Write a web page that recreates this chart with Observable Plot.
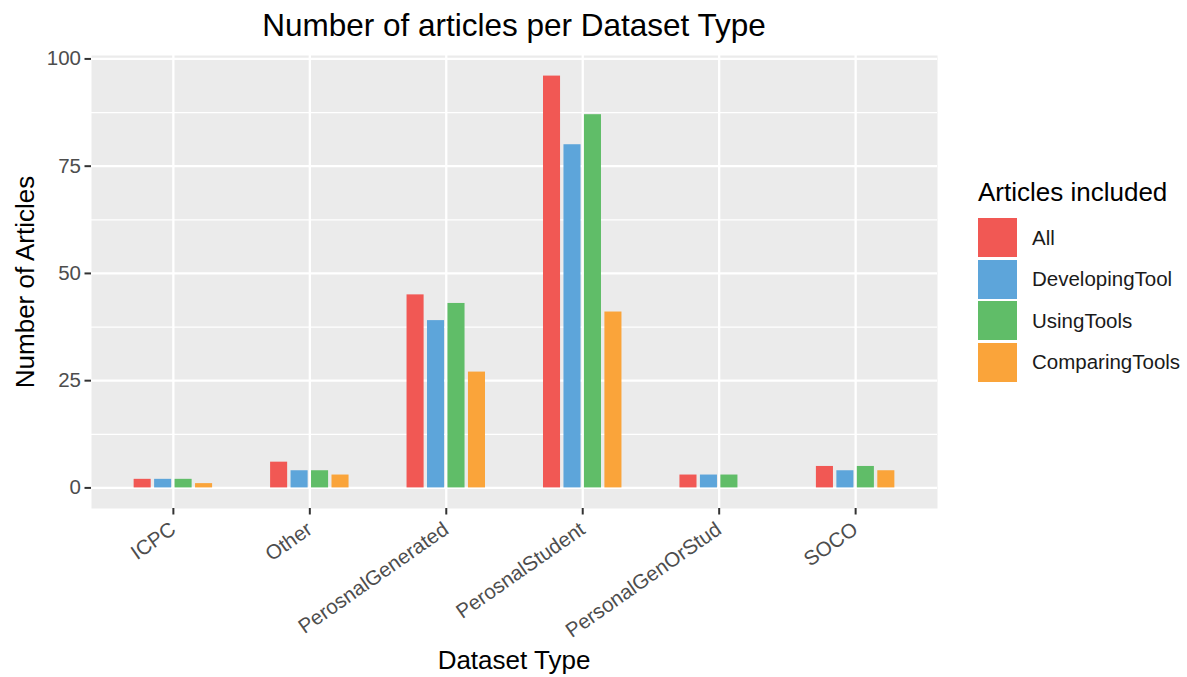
<!DOCTYPE html>
<html>
<head>
<meta charset="utf-8">
<script src="https://cdn.jsdelivr.net/npm/d3@7"></script>
<script src="https://cdn.jsdelivr.net/npm/@observablehq/plot@0.6"></script>
<style>
  body { margin: 0; background: #ffffff; }
  #wrap { position: relative; width: 1187px; height: 677px; overflow: hidden;
          font-family: "Liberation Sans", Arial, Helvetica, sans-serif; background: #ffffff; }
  #wrap svg { position: absolute; left: 0; top: 0; }
  .title { position: absolute; left: 91px; width: 846px; top: 10px; text-align: center;
           font-size: 31.5px; line-height: 31px; color: #000; white-space: nowrap; }
  .xtitle { position: absolute; left: 91px; width: 846px; top: 647px; text-align: center;
            font-size: 26px; line-height: 26px; color: #000; white-space: nowrap; }
  .ytitle { position: absolute; left: -202.5px; top: 268.5px; width: 453px; height: 26px; text-align: center;
            font-size: 26px; line-height: 26px; color: #000; transform: rotate(-90deg); white-space: nowrap; }
  .legend { position: absolute; left: 978px; top: 179px; }
  .legend-title { font-size: 26px; line-height: 26px; color: #000; white-space: nowrap; margin-bottom: 12px; }
  .legend-row { display: flex; align-items: center; height: 41.5px; }
  .legend-key { width: 39px; height: 39px; margin-right: 15px; }
  .legend-label { font-size: 20.5px; color: #1a1a1a; white-space: nowrap; }
</style>
</head>
<body>
<div id="wrap"></div>
<script>
// ---- data ----
const categories = ["ICPC", "Other", "PerosnalGenerated", "PerosnalStudent", "PersonalGenOrStud", "SOCO"];
const seriesNames = ["All", "DevelopingTool", "UsingTools", "ComparingTools"];
const allArticles    = [2, 6, 45, 96, 3, 5];
const developingTool = [2, 4, 39, 80, 3, 4];
const usingTools     = [2, 4, 43, 87, 3, 5];
const comparingTools = [1, 3, 27, 41, 0, 4];
const seriesColors = ["#F15854", "#5DA5DA", "#60BD68", "#FAA43A"];
const yTicks = [0, 25, 50, 75, 100];
const yMinorTicks = [12.5, 37.5, 62.5, 87.5];
const chartTitle = "Number of articles per Dataset Type";
const xTitle = "Dataset Type";
const yTitle = "Number of Articles";
const legendTitle = "Articles included";

// ---- build dodged rows (like ggplot position_dodge(0.6), width 0.5) ----
const seriesValues = [allArticles, developingTool, usingTools, comparingTools];
const dodgeWidth = 0.6, barWidth = 0.5;
const k = seriesNames.length;
const rows = [];
categories.forEach((cat, i) => {
  seriesValues.forEach((vals, j) => {
    const center = i + (j - (k - 1) / 2) * dodgeWidth / k;
    const half = barWidth / k / 2;
    rows.push({category: cat, series: seriesNames[j], value: vals[i], x1: center - half, x2: center + half});
  });
});
const n = categories.length;
const ymax = d3.max(rows, d => d.value);
const idx = d3.range(n);

const chart = Plot.plot({
  width: 1187,
  height: 677,
  marginLeft: 91,
  marginRight: 250,
  marginTop: 55,
  marginBottom: 169,
  style: {fontFamily: '"Liberation Sans", Arial, Helvetica, sans-serif', fontSize: "20.5px", background: "transparent", overflow: "visible"},
  x: {domain: [-0.6, n - 1 + 0.6]},
  y: {domain: [-0.05 * ymax, ymax * 1.05]},
  color: {domain: seriesNames, range: seriesColors},
  marks: [
    Plot.frame({fill: "#EBEBEB"}),
    Plot.gridY(yMinorTicks, {stroke: "#ffffff", strokeOpacity: 1, strokeWidth: 1.2}),
    Plot.gridY(yTicks, {stroke: "#ffffff", strokeOpacity: 1, strokeWidth: 2.3}),
    Plot.gridX(idx, {stroke: "#ffffff", strokeOpacity: 1, strokeWidth: 2.3}),
    Plot.rect(rows, {x1: "x1", x2: "x2", y1: 0, y2: "value", fill: "series"}),
    Plot.axisY(yTicks, {tickSize: 6.5, tickPadding: 4, fill: "#4D4D4D", stroke: "#333333", strokeWidth: 2, label: null, fontSize: 20.5}),
    Plot.axisX(idx, {tickFormat: i => categories[i], tickRotate: -35, tickSize: 6.5, tickPadding: 12,
                     fill: "#4D4D4D", stroke: "#333333", strokeWidth: 2, label: null, fontSize: 20.5})
  ]
});

const wrap = document.getElementById("wrap");
wrap.appendChild(chart);

function addDiv(cls, text, parent = wrap) {
  const d = document.createElement("div");
  d.className = cls;
  if (text != null) d.textContent = text;
  parent.appendChild(d);
  return d;
}
addDiv("title", chartTitle);
addDiv("xtitle", xTitle);
addDiv("ytitle", yTitle);
const legend = addDiv("legend");
addDiv("legend-title", legendTitle, legend);
seriesNames.forEach((s, j) => {
  const row = addDiv("legend-row", null, legend);
  const key = addDiv("legend-key", null, row);
  key.style.background = seriesColors[j];
  addDiv("legend-label", s, row);
});
</script>
</body>
</html>
